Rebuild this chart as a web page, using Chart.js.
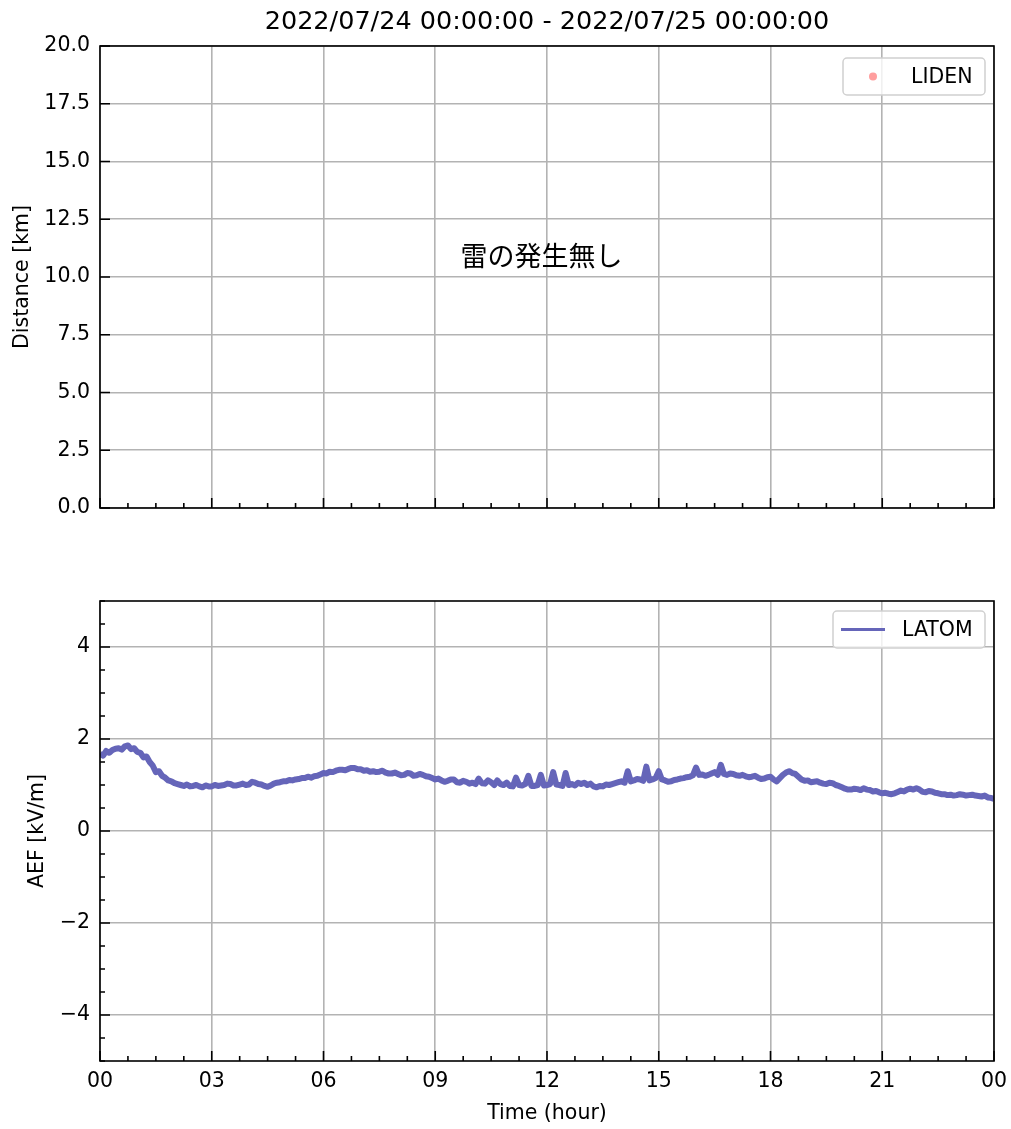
<!DOCTYPE html>
<html>
<head>
<meta charset="utf-8">
<script src="https://cdn.jsdelivr.net/npm/chart.js@4/dist/chart.umd.min.js"></script>
<style>
  html, body { margin: 0; padding: 0; background: #fff; }
  #wrap { position: relative; width: 1011px; height: 1129px; }
  canvas { position: absolute; left: 0; }
</style>
</head>
<body>
<div id="wrap">
  <canvas id="topChart" width="1011" height="545" style="top:0;width:1011px;height:545px"></canvas>
  <canvas id="bottomChart" width="1011" height="584" style="top:545px;width:1011px;height:584px"></canvas>
</div>
<script>
const titleText = '2022/07/24 00:00:00 - 2022/07/25 00:00:00';
const noLightningText = '雷の発生無し';

// time axis (hours), major every 3 h
const hourTicks = [0, 3, 6, 9, 12, 15, 18, 21, 24];
const distanceTicks = [0, 2.5, 5, 7.5, 10, 12.5, 15, 17.5, 20];
const aefTicks = [-4, -2, 0, 2, 4];

// LIDEN strikes: none on this day
const lidenHours = [];
const lidenDistance = [];

// LATOM atmospheric electric field [kV/m], one sample every 5 minutes
const aefValues = [
  1.68, 1.64, 1.74, 1.70, 1.76, 1.79, 1.80, 1.77, 1.84, 1.86, 1.78, 1.80,
  1.72, 1.70, 1.60, 1.62, 1.50, 1.42, 1.28, 1.30, 1.20, 1.16, 1.10, 1.08,
  1.04, 1.02, 1.00, 0.98, 1.01, 0.97, 0.98, 1.00, 0.97, 0.95, 0.99, 0.97,
  0.97, 1.00, 0.98, 0.99, 1.00, 1.03, 1.02, 0.99, 0.99, 1.01, 1.03, 1.00,
  1.01, 1.07, 1.05, 1.02, 1.01, 0.98, 0.96, 0.99, 1.03, 1.05, 1.06, 1.08,
  1.08, 1.11, 1.10, 1.12, 1.13, 1.15, 1.15, 1.18, 1.16, 1.19, 1.20, 1.23,
  1.26, 1.25, 1.29, 1.28, 1.31, 1.33, 1.33, 1.32, 1.35, 1.37, 1.37, 1.34,
  1.34, 1.31, 1.32, 1.29, 1.30, 1.28, 1.29, 1.31, 1.27, 1.25, 1.25, 1.27,
  1.24, 1.21, 1.22, 1.26, 1.25, 1.20, 1.21, 1.24, 1.22, 1.19, 1.18, 1.15,
  1.12, 1.14, 1.10, 1.07, 1.09, 1.12, 1.12, 1.06, 1.05, 1.09, 1.07, 1.03,
  1.05, 1.02, 1.14, 1.04, 1.03, 1.10, 1.06, 1.00, 1.10, 1.02, 1.00, 1.05,
  0.98, 0.97, 1.16, 1.00, 0.99, 1.02, 1.20, 0.98, 0.98, 1.00, 1.22, 0.99,
  1.00, 1.02, 1.28, 1.01, 1.00, 0.98, 1.26, 1.00, 1.02, 0.99, 1.05, 1.02,
  1.05, 1.00, 1.03, 0.97, 0.95, 0.98, 0.97, 1.01, 1.00, 1.02, 1.04, 1.06,
  1.08, 1.05, 1.30, 1.08, 1.10, 1.13, 1.12, 1.09, 1.40, 1.10, 1.12, 1.15,
  1.30, 1.12, 1.10, 1.07, 1.08, 1.11, 1.12, 1.14, 1.15, 1.17, 1.18, 1.21,
  1.38, 1.22, 1.23, 1.20, 1.22, 1.25, 1.28, 1.22, 1.44, 1.24, 1.22, 1.25,
  1.24, 1.21, 1.20, 1.22, 1.19, 1.17, 1.18, 1.20, 1.16, 1.13, 1.14, 1.17,
  1.18, 1.12, 1.08, 1.15, 1.22, 1.27, 1.30, 1.26, 1.24, 1.18, 1.12, 1.09,
  1.10, 1.06, 1.07, 1.08, 1.05, 1.03, 1.02, 1.05, 1.04, 1.00, 0.98, 0.95,
  0.92, 0.90, 0.90, 0.92, 0.91, 0.89, 0.93, 0.90, 0.89, 0.86, 0.87, 0.84,
  0.82, 0.83, 0.81, 0.80, 0.82, 0.85, 0.88, 0.86, 0.90, 0.92, 0.90, 0.93,
  0.90, 0.85, 0.84, 0.87, 0.86, 0.83, 0.82, 0.80, 0.80, 0.78, 0.79, 0.77,
  0.78, 0.80, 0.79, 0.77, 0.78, 0.79, 0.77, 0.76, 0.75, 0.77, 0.73, 0.72,
  0.70
];
const aefHours = aefValues.map((v, i) => i / 12);

const lineColor = '#6565b9';
const lidenColor = 'rgba(255, 40, 40, 0.45)';
const gridColor = '#b3b3b3';
const fontSize = 20.5;

Chart.defaults.font.family = 'DejaVu Sans';
Chart.defaults.font.size = fontSize;
Chart.defaults.color = '#000';

function pad2(v) {
  return String(v % 24).padStart(2, '0');
}

function setTicks(values) {
  return function(scale) {
    scale.ticks = values.map(v => ({ value: v }));
  };
}

function fitX(h) {
  return function(s) {
    s.height = h;
    s.paddingLeft = 0;
    s.paddingRight = 0;
  };
}

// title, box, inward ticks, legend, annotation
const framePlugin = {
  id: 'frame',
  afterDatasetsDraw(chart, args, opts) {
    const ctx = chart.ctx;
    const a = chart.chartArea;
    const xs = chart.scales.x;
    const ys = chart.scales.y;
    ctx.save();
    ctx.strokeStyle = '#000';
    ctx.lineWidth = 1.6;
    // inward ticks
    ctx.beginPath();
    hourTicks.forEach(h => {
      const px = xs.getPixelForValue(h);
      ctx.moveTo(px, a.bottom); ctx.lineTo(px, a.bottom - 10);
    });
    for (let m = 0; m <= 24; m += 0.75) {
      const px = xs.getPixelForValue(m);
      ctx.moveTo(px, a.bottom); ctx.lineTo(px, a.bottom - 5);
    }
    opts.yTicks.forEach(v => {
      const py = ys.getPixelForValue(v);
      ctx.moveTo(a.left, py); ctx.lineTo(a.left + 10, py);
    });
    if (opts.yMinor) {
      for (let v = ys.min; v <= ys.max + 1e-9; v += opts.yMinor) {
        const py = ys.getPixelForValue(v);
        ctx.moveTo(a.left, py); ctx.lineTo(a.left + 5, py);
      }
    }
    ctx.stroke();
    ctx.strokeRect(a.left, a.top, a.right - a.left, a.bottom - a.top);

    // legend
    const lg = opts.legend;
    ctx.beginPath();
    ctx.roundRect(lg.x, lg.y, lg.w, lg.h, 4);
    ctx.fillStyle = 'rgba(255,255,255,0.8)';
    ctx.fill();
    ctx.strokeStyle = '#d0d0d0';
    ctx.lineWidth = 1.5;
    ctx.stroke();
    const ds = chart.data.datasets[0];
    const cy = lg.y + lg.h / 2;
    if (lg.kind === 'point') {
      ctx.beginPath();
      ctx.arc(lg.x + 30, cy, 4, 0, Math.PI * 2);
      ctx.fillStyle = ds.pointBackgroundColor;
      ctx.fill();
    } else {
      ctx.beginPath();
      ctx.moveTo(lg.x + 8, cy); ctx.lineTo(lg.x + 52, cy);
      ctx.strokeStyle = ds.borderColor;
      ctx.lineWidth = 3;
      ctx.stroke();
    }
    ctx.fillStyle = '#000';
    ctx.font = fontSize + 'px "DejaVu Sans"';
    ctx.textAlign = 'left';
    ctx.textBaseline = 'middle';
    ctx.fillText(ds.label, lg.x + lg.textDx, cy + 1);

    if (opts.title) {
      ctx.font = '25.5px "DejaVu Sans"';
      ctx.textAlign = 'center';
      ctx.fillText(opts.title, (a.left + a.right) / 2, 22);
    }
    if (opts.note) {
      ctx.font = '27px "Noto Sans CJK JP"';
      ctx.textAlign = 'center';
      ctx.fillText(opts.note, xs.getPixelForValue(11.85), ys.getPixelForValue(10.9));
    }
    ctx.restore();
  }
};

new Chart(document.getElementById('topChart'), {
  type: 'scatter',
  data: {
    datasets: [{
      label: 'LIDEN',
      data: lidenHours.map((h, i) => ({ x: h, y: lidenDistance[i] })),
      pointBackgroundColor: lidenColor,
      pointBorderWidth: 0,
      pointRadius: 4
    }]
  },
  options: {
    responsive: false,
    animation: false,
    layout: { padding: { left: 0, right: 17, top: 46, bottom: 37 } },
    plugins: {
      legend: { display: false },
      tooltip: { enabled: false },
      frame: {
        title: titleText,
        yTicks: distanceTicks,
        yMinor: 0,
        note: noLightningText,
        legend: { x: 843, y: 58, w: 142, h: 37, kind: 'point', textDx: 68 }
      }
    },
    scales: {
      x: {
        type: 'linear', min: 0, max: 24,
        afterBuildTicks: setTicks(hourTicks),
        afterFit: fitX(0),
        ticks: { display: false },
        grid: { color: gridColor, lineWidth: 1.6, drawTicks: false },
        border: { display: false }
      },
      y: {
        min: 0, max: 20,
        afterBuildTicks: setTicks(distanceTicks),
        afterFit(s) { s.width = 100; },
        ticks: { padding: 10, callback: v => v.toFixed(1) },
        grid: { color: gridColor, lineWidth: 1.6, drawTicks: false },
        border: { display: false },
        title: { display: true, text: 'Distance [km]', padding: { top: 10, bottom: 0 } }
      }
    }
  },
  plugins: [framePlugin]
});

new Chart(document.getElementById('bottomChart'), {
  type: 'line',
  data: {
    datasets: [{
      label: 'LATOM',
      data: aefHours.map((h, i) => ({ x: h, y: aefValues[i] })),
      borderColor: lineColor,
      borderWidth: 6,
      pointRadius: 0,
      tension: 0,
      borderJoinStyle: 'round'
    }]
  },
  options: {
    responsive: false,
    animation: false,
    layout: { padding: { left: 0, right: 17, top: 56, bottom: 0 } },
    plugins: {
      legend: { display: false },
      tooltip: { enabled: false },
      frame: {
        yTicks: aefTicks,
        yMinor: 0.5,
        legend: { x: 833, y: 66, w: 152, h: 37, kind: 'line', textDx: 69 }
      }
    },
    scales: {
      x: {
        type: 'linear', min: 0, max: 24,
        afterBuildTicks: setTicks(hourTicks),
        afterFit: fitX(68),
        ticks: { padding: 8, maxRotation: 0, callback: v => pad2(v) },
        grid: { color: gridColor, lineWidth: 1.6, drawTicks: false },
        border: { display: false },
        title: { display: true, text: 'Time (hour)', padding: { top: 0, bottom: 3 } }
      },
      y: {
        min: -5, max: 5,
        afterBuildTicks: setTicks(aefTicks),
        afterFit(s) { s.width = 100; },
        ticks: { padding: 10, callback: v => (v < 0 ? '\u2212' + Math.abs(v) : String(v)) },
        grid: { color: gridColor, lineWidth: 1.6, drawTicks: false },
        border: { display: false },
        title: { display: true, text: 'AEF [kV/m]', padding: { top: 25, bottom: 0 } }
      }
    }
  },
  plugins: [framePlugin]
});
</script>
</body>
</html>
